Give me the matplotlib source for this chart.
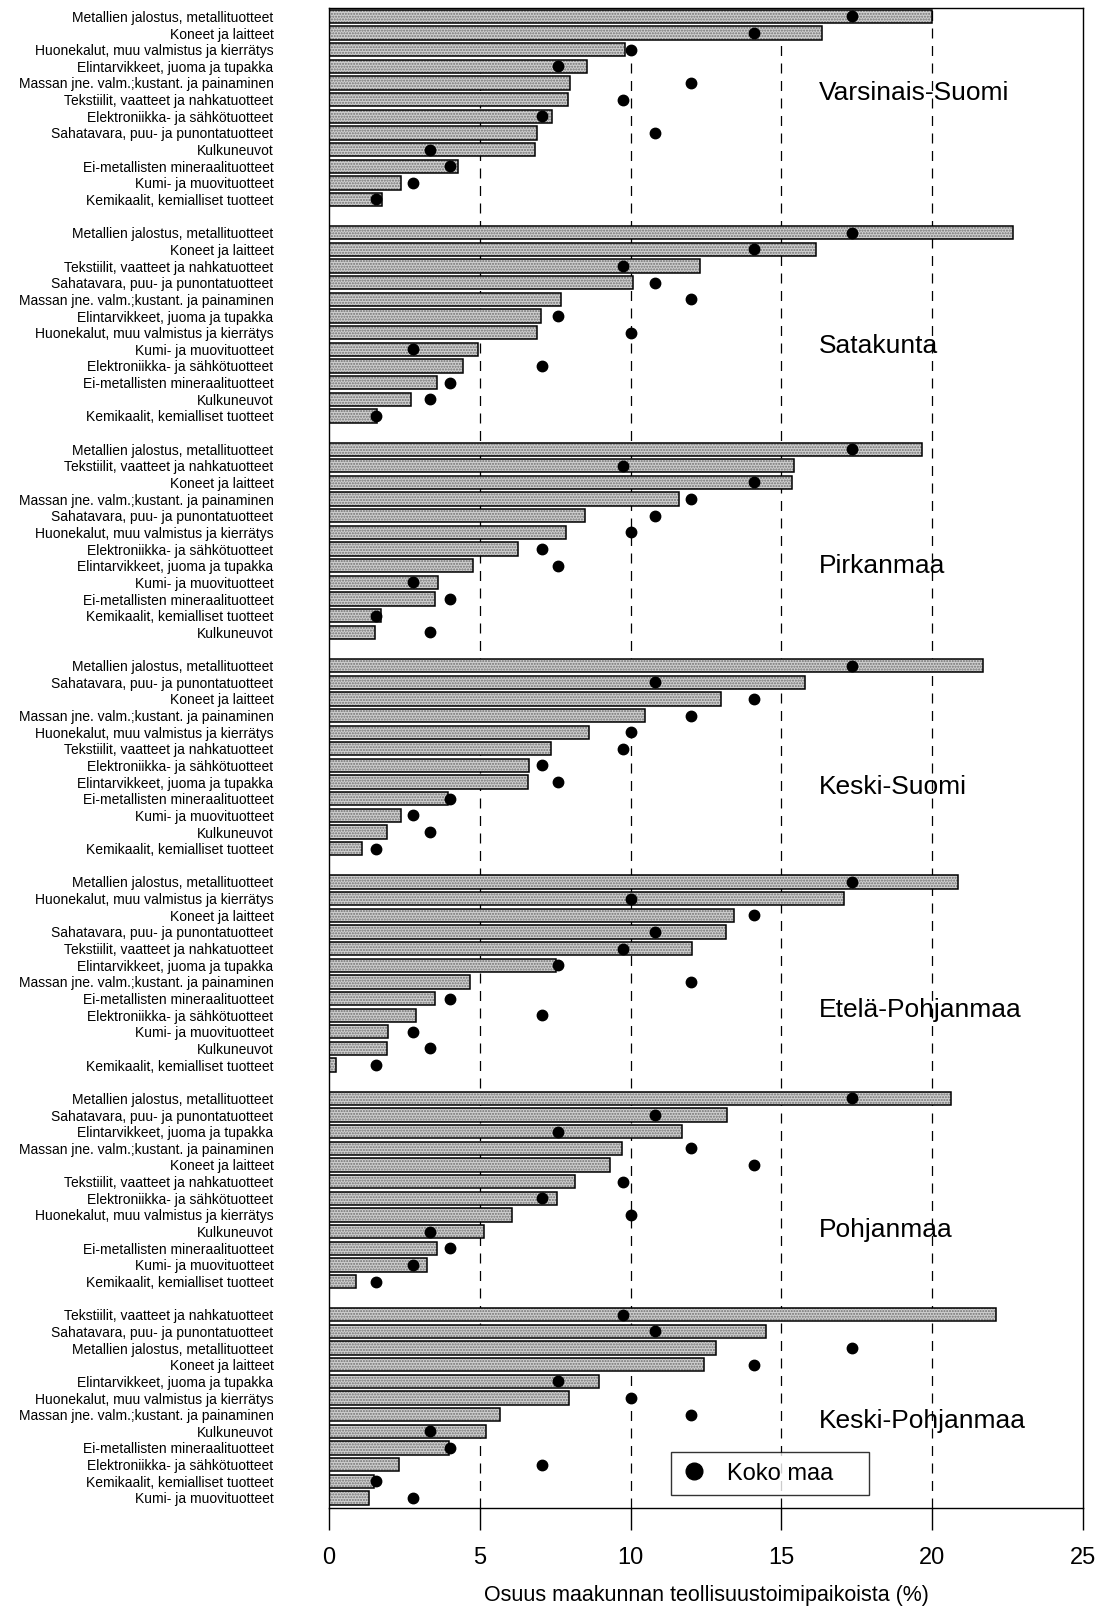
import numpy as np
import matplotlib
matplotlib.use("Agg")
import matplotlib.pyplot as plt

plt.rcParams['font.family'] = ['Liberation Sans', 'DejaVu Sans']

# toimialat (fixed order), koko maan osuudet
industries = [
    "Metallien jalostus, metallituotteet",
    "Koneet ja laitteet",
    "Huonekalut, muu valmistus ja kierrätys",
    "Elintarvikkeet, juoma ja tupakka",
    "Massan jne. valm.;kustant. ja painaminen",
    "Tekstiilit, vaatteet ja nahkatuotteet",
    "Elektroniikka- ja sähkötuotteet",
    "Sahatavara, puu- ja punontatuotteet",
    "Kulkuneuvot",
    "Ei-metallisten mineraalituotteet",
    "Kumi- ja muovituotteet",
    "Kemikaalit, kemialliset tuotteet",
]
koko_maa = [17.35, 14.1, 10.0, 7.6, 12.0, 9.75, 7.05, 10.8, 3.35, 4.0, 2.8, 1.55]

regions = ["Varsinais-Suomi", "Satakunta", "Pirkanmaa", "Keski-Suomi",
           "Etelä-Pohjanmaa", "Pohjanmaa", "Keski-Pohjanmaa"]

varsinais_suomi = [20.0, 16.35, 9.8, 8.55, 8.0, 7.93, 7.4, 6.9, 6.83, 4.27, 2.4, 1.77]
satakunta = [22.68, 16.15, 6.88, 7.02, 7.69, 12.31, 4.45, 10.07, 2.73, 3.59, 4.94, 1.59]
pirkanmaa = [19.67, 15.36, 7.86, 4.76, 11.61, 15.41, 6.25, 8.48, 1.52, 3.52, 3.61, 1.72]
keski_suomi = [21.7, 13.0, 8.62, 6.6, 10.47, 7.37, 6.64, 15.78, 1.91, 3.96, 2.38, 1.1]
etela_pohjanmaa = [20.84, 13.43, 17.06, 7.53, 4.69, 12.03, 2.87, 13.15, 1.91, 3.5, 1.96, 0.23]
pohjanmaa = [20.63, 9.32, 6.06, 11.72, 9.7, 8.16, 7.55, 13.19, 5.15, 3.59, 3.24, 0.89]
keski_pohjanmaa = [12.84, 12.42, 7.95, 8.95, 5.66, 22.12, 2.33, 14.5, 5.22, 3.99, 1.31, 1.49]

region_values = [varsinais_suomi, satakunta, pirkanmaa, keski_suomi,
                 etela_pohjanmaa, pohjanmaa, keski_pohjanmaa]

# row offset (within panel) where the region name sits
name_rows = [4.6, 6.8, 7.0, 7.3, 7.7, 7.9, 6.4]

fig = plt.figure(figsize=(11.04, 16.11), dpi=100)
ax = fig.add_axes([0.298, 0.064, 0.683, 0.931])

n = len(industries)
slot = n + 1
ypos, ylabels = [], []
for r, vals in enumerate(region_values):
    order = sorted(range(n), key=lambda i: -vals[i])
    y = [r * slot + k for k in range(n)]
    v = [vals[i] for i in order]
    nat = [koko_maa[i] for i in order]
    # stippled fill, then black outline
    ax.barh(y, v, height=0.8, color='#d0d0d0', edgecolor='#707070',
            hatch='......', linewidth=0, zorder=2)
    ax.barh(y, v, height=0.8, fill=False, edgecolor='black',
            linewidth=1.1, zorder=3)
    ax.plot(nat, y, 'o', color='black', ms=7.5, zorder=4,
            label='Koko maa' if r == 0 else None)
    ax.text(16.25, r * slot + name_rows[r], regions[r], fontsize=19,
            va='center', ha='left', zorder=5)
    ypos += y
    ylabels += [industries[i] for i in order]

for g in [5, 10, 15, 20]:
    ax.axvline(g, color='black', lw=0.9, ls=(0, (8, 6)), zorder=1)

ax.set_xlim(0, 25)
ax.set_ylim(len(regions) * slot - 1 - 0.4, -0.5)
ax.set_xticks([0, 5, 10, 15, 20, 25])
ax.tick_params(axis='x', labelsize=17, length=16, width=1, pad=12)
ax.set_yticks(ypos)
ax.set_yticklabels(ylabels, fontsize=10)
ax.tick_params(axis='y', length=0, pad=40)
ax.set_xlabel("Osuus maakunnan teollisuustoimipaikoista (%)", fontsize=15.5, labelpad=12)
for s in ax.spines.values():
    s.set_linewidth(1)

leg = ax.legend(loc='lower left', bbox_to_anchor=(0.454, 0.0085, 0.262, 0.033),
                mode='expand', fontsize=17, frameon=True, fancybox=False,
                edgecolor='black', handlelength=1.0, handletextpad=0.9,
                borderpad=0.45, borderaxespad=0, markerscale=1.6)
leg.get_frame().set_linewidth(1)

fig.savefig("out.png", dpi=100)
